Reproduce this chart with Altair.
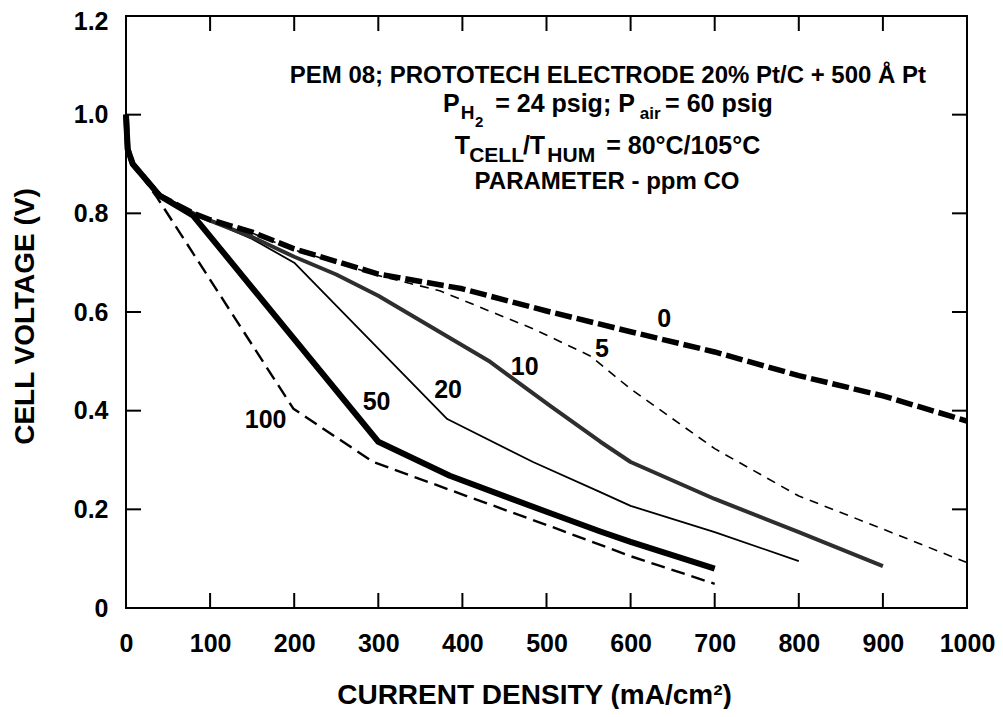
import altair as alt
import pandas as pd

FONT = "Liberation Sans, Arial, Helvetica, sans-serif"
W, H = 841, 592

# ---- curve data: current density (mA/cm2) and cell voltage (V), per ppm CO ----
cd_0 = [0, 2, 8, 40, 80, 100, 150, 200, 300, 400, 500, 600, 700, 800, 900, 1000]
v_0 = [1.0, 0.93, 0.90, 0.836, 0.80, 0.787, 0.762, 0.728, 0.677, 0.647, 0.602, 0.560, 0.519, 0.471, 0.430, 0.379]

cd_5 = [0, 2, 8, 40, 80, 100, 150, 200, 300, 373, 484, 552, 600, 700, 800, 900, 1000]
v_5 = [1.0, 0.93, 0.90, 0.836, 0.80, 0.787, 0.760, 0.726, 0.674, 0.643, 0.566, 0.511, 0.444, 0.323, 0.227, 0.160, 0.092]

cd_10 = [0, 2, 8, 40, 80, 100, 150, 200, 250, 300, 433, 504, 564, 600, 700, 800, 900]
v_10 = [1.0, 0.93, 0.90, 0.836, 0.80, 0.785, 0.752, 0.712, 0.676, 0.633, 0.499, 0.410, 0.337, 0.296, 0.221, 0.154, 0.085]

cd_20 = [0, 2, 8, 40, 80, 100, 150, 200, 382, 484, 564, 600, 700, 800]
v_20 = [1.0, 0.93, 0.90, 0.836, 0.80, 0.785, 0.748, 0.700, 0.383, 0.296, 0.235, 0.207, 0.154, 0.095]

cd_50 = [0, 2, 8, 40, 80, 300, 385, 500, 564, 600, 700]
v_50 = [1.0, 0.93, 0.90, 0.836, 0.795, 0.337, 0.268, 0.195, 0.155, 0.134, 0.080]

cd_100 = [0, 2, 8, 37, 199, 294, 405, 504, 600, 700]
v_100 = [1.0, 0.93, 0.90, 0.832, 0.404, 0.296, 0.227, 0.166, 0.105, 0.049]

# ---- curve labels ----
label_text = ["0", "5", "10", "20", "50", "100"]
label_x = [640, 566, 474, 383, 298, 166]
label_y = [0.586, 0.525, 0.489, 0.442, 0.418, 0.381]

# ---- axes ----
x_label_vals = [0, 100, 200, 300, 400, 500, 600, 700, 800, 900, 1000]
y_label_vals = [0, 0.2, 0.4, 0.6, 0.8, 1.0, 1.2]
x_tick_vals = [100, 200, 300, 400, 500, 600, 700, 800, 900]
y_tick_vals = [0.2, 0.4, 0.6, 0.8, 1.0]

# ---- annotation block ----
ann_c_text = ["PEM 08; PROTOTECH ELECTRODE 20% Pt/C + 500 Å Pt", "PARAMETER - ppm CO"]
ann_c_x = [573, 572]
ann_c_y = [1.065, 0.850]
ann_c_size = [24, 24]

ann_l_text = ["P", "H", "2", "= 24 psig; P", "air", "= 60 psig",
              "T", "CELL", "/", "T", "HUM", "= 80°C/105°C"]
ann_l_x = [377, 398, 415, 439, 611, 641, 391, 408, 472, 480, 501, 571]
ann_l_y = [1.006, 0.992, 0.976, 1.006, 0.992, 1.006,
           0.921, 0.905, 0.921, 0.921, 0.905, 0.921]
ann_l_size = [25, 19, 15, 25, 17, 25, 25, 21, 25, 25, 21, 25]

X_SCALE = alt.Scale(domain=[0, 1000], nice=False, zero=False)
Y_SCALE = alt.Scale(domain=[0, 1.2], nice=False, zero=False)

x_axis = alt.Axis(values=x_label_vals, format="d", title="CURRENT DENSITY (mA/cm²)",
                  labelPadding=23, labelFlush=False, labelOverlap=False,
                  titleX=408, titleY=95, titleBaseline="alphabetic", titleAlign="center")
y_axis = alt.Axis(values=y_label_vals, title="CELL VOLTAGE (V)",
                  labelExpr="datum.value == 0 ? '0' : format(datum.value, '.1f')",
                  labelOffset={"condition": {"test": "datum.value > 1.1", "value": 5}, "value": 0},
                  labelPadding=18, labelFlush=False, labelOverlap=False,
                  titleX=-101, titleY=300, titleAngle=270,
                  titleBaseline="middle", titleAlign="center")


def X():
    return alt.X("x:Q", scale=X_SCALE, axis=x_axis)


def Y():
    return alt.Y("y:Q", scale=Y_SCALE, axis=y_axis)


def curve(xs, ys, width, dash=None, color="black"):
    df = pd.DataFrame({"x": xs, "y": ys})
    kw = dict(color=color, strokeWidth=width, strokeCap="butt", strokeJoin="round")
    if dash:
        kw["strokeDash"] = dash
    return alt.Chart(df).mark_line(**kw).encode(x=X(), y=Y(), order=alt.Order("x:Q"))


layers = [
    curve(cd_20, v_20, 1.8),
    curve(cd_5, v_5, 1.6, [9, 7]),
    curve(cd_100, v_100, 2.4, [14, 7]),
    curve(cd_10, v_10, 4, color="#2e2e2e"),
    curve(cd_50, v_50, 6),
    curve(cd_0, v_0, 5.5, [17, 5]),
]

# inward ticks on all four sides
yt = pd.DataFrame({"y": y_tick_vals})
xt = pd.DataFrame({"x": x_tick_vals})
tick_kw = dict(color="black", strokeWidth=2)
layers += [
    alt.Chart(yt).mark_rule(**tick_kw).encode(y=Y(), x=alt.value(0), x2=alt.value(15)),
    alt.Chart(yt).mark_rule(**tick_kw).encode(y=Y(), x=alt.value(W - 15), x2=alt.value(W)),
    alt.Chart(xt).mark_rule(**tick_kw).encode(x=X(), y=alt.value(H - 15), y2=alt.value(H)),
    alt.Chart(xt).mark_rule(**tick_kw).encode(x=X(), y=alt.value(0), y2=alt.value(15)),
]

# curve labels
lab = pd.DataFrame({"x": label_x, "y": label_y, "t": label_text})
layers.append(
    alt.Chart(lab).mark_text(font=FONT, fontSize=25, fontWeight="bold", color="black",
                             align="center", baseline="middle")
    .encode(x=X(), y=Y(), text="t:N")
)

# annotation text
ac = pd.DataFrame({"x": ann_c_x, "y": ann_c_y, "t": ann_c_text, "s": ann_c_size})
layers.append(
    alt.Chart(ac).mark_text(font=FONT, fontWeight="bold", color="black",
                            align="center", baseline="alphabetic")
    .encode(x=X(), y=Y(), text="t:N", size=alt.Size("s:Q", scale=None, legend=None))
)
al = pd.DataFrame({"x": ann_l_x, "y": ann_l_y, "t": ann_l_text, "s": ann_l_size})
layers.append(
    alt.Chart(al).mark_text(font=FONT, fontWeight="bold", color="black",
                            align="left", baseline="alphabetic")
    .encode(x=X(), y=Y(), text="t:N", size=alt.Size("s:Q", scale=None, legend=None))
)

chart = (
    alt.layer(*layers)
    .properties(width=W, height=H, autosize=alt.AutoSizeParams(type="none"),
                padding={"left": 118, "top": 8, "right": 28, "bottom": 101},
                background="white")
    .configure_axis(domain=False, ticks=False, tickSize=0, grid=False,
                    labelFont=FONT, labelFontSize=25, labelFontWeight="bold", labelColor="black",
                    titleFont=FONT, titleFontSize=28, titleFontWeight="bold", titleColor="black")
    .configure_view(stroke="black", strokeWidth=2)
)

chart.save("out.html", embed_options={"renderer": "svg", "actions": False})
